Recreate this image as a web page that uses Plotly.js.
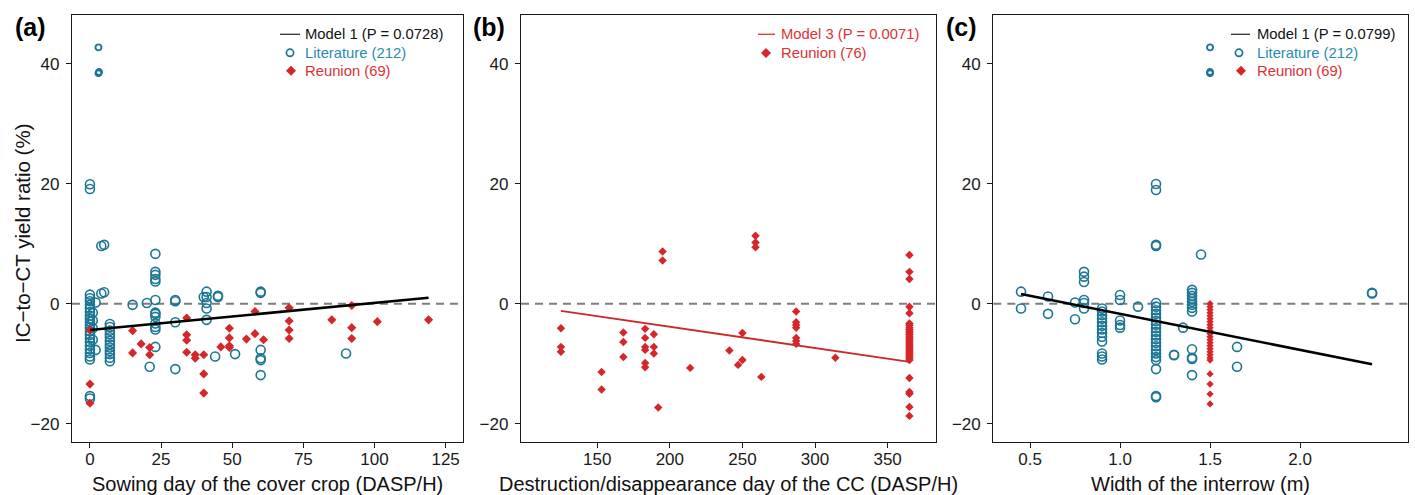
<!DOCTYPE html>
<html><head><meta charset="utf-8">
<script src="https://cdn.plot.ly/plotly-3.0.1.min.js"></script>
<style>html,body{margin:0;padding:0;background:#fff}</style>
</head><body><div id="chart" style="width:1415px;height:495px"></div>
<script>
// ---------- Panel (a): sowing day of the cover crop ----------
const litA_x = [0,0,0,0,0,0,0,0,0,0,0,0,0,0,0,0,0,0,0,0,0,0,0,0, 1,1,1,1, 2,2, 4,4,5,5, 7,7,7,7,7,7,7,7,7,7,7,7, 15, 20, 21, 23,23,23,23,23,23,23,23,23,23,23,23,23, 30,30,30,30, 40, 41,41,41,41,41, 44, 45,45, 51, 60,60,60,60,60,60, 90];
const litA_y = [1.5,0.9,0.4,-0.2,-0.8,-1.4,-2.0,-2.5,-3.0,-3.5,-4.0,-4.6,-5.2,-5.8,-6.4,-7.0,-7.6,-8.2,-8.8,-9.3,19.9,19.1,-15.4,-15.8, -1.5,-2.8,-4.1,-6.0, 0.2,-7.7, 9.6,1.7,9.8,1.9, -3.4,-3.9,-4.5,-5.1,-5.6,-6.2,-6.8,-7.3,-7.9,-8.4,-9.0,-9.6, -0.2, 0.1, -10.5, 8.3,5.3,4.8,4.1,3.7,0.6,-1.5,-1.7,-2.2,-3.3,-3.9,-4.3,-7.2, 0.6,0.4,-3.1,-10.9, 1.1, 2.0,1.1,0.1,-0.8,-2.7, -8.8, 1.3,1.1, -8.4, 2.0,1.8,-7.7,-9.1,-9.4,-11.9, -8.3];
const litA_small_x = [3,3,3.2];
const litA_small_y = [42.7,38.4,38.6];
const reuA_x = [0,0,0,15,15,18,21,21,34,34,34,34,37,37,40,40,40,46,49,49,49,49,55,58,58,61,70,70,70,70,85,92,92,92,101,119];
const reuA_y = [-4.4,-13.4,-16.6,-4.5,-8.2,-6.7,-7.3,-8.5,-2.4,-5.2,-6.1,-8.1,-8.5,-9.1,-8.5,-11.7,-14.9,-7.2,-4.1,-5.7,-7.0,-7.3,-5.9,-1.3,-5.0,-6.0,-0.7,-2.9,-4.4,-5.8,-2.7,-0.3,-4.0,-5.8,-3.0,-2.7];
const modelA_x = [0,119];
const modelA_y = [-4.4,1.0];

// ---------- Panel (b): destruction/disappearance day ----------
const reuB_x = [125,125,125, 153,153, 168,168,168, 183,183,183,183,183,183, 189,189,189, 192, 195,195, 214, 241, 247, 250,250, 259,259,259, 263, 287,287,287,287,287,287,287, 314,
  365,365,365,365,365, 365,365,365,365,365,365,365,365,365,365,365,365,365,365,365,365,365,365,365,365,365, 365,365,365,365,365];
const reuB_y = [-4.1,-7.2,-8.0, -11.4,-14.3, -4.8,-6.4,-8.9, -4.2,-5.7,-7.2,-7.7,-9.9,-10.6, -5.1,-7.2,-8.3, -17.3, 8.7,7.2, -10.7, -7.8, -10.2, -4.9,-9.4, 11.3,10.2,9.4, -12.2, -1.3,-3.1,-3.55,-4.0,-5.7,-6.2,-6.7, -9.0,
  8.1,5.3,4.1,-0.5,-1.6, -3.3,-3.6,-4.0,-4.3,-4.6,-4.9,-5.2,-5.5,-5.8,-6.1,-6.4,-6.7,-7.0,-7.3,-7.6,-7.9,-8.2,-8.5,-8.8,-9.1,-9.4, -12.4,-14.7,-15.0,-17.2,-18.7];
const modelB_x = [125,365];
const modelB_y = [-1.2,-9.7];

// ---------- Panel (c): width of the interrow ----------
const litC_x = [0.45,0.45, 0.6,0.6, 0.75,0.75, 0.8,0.8,0.8,0.8,0.8,0.8,
  0.9,0.9,0.9,0.9,0.9,0.9,0.9,0.9,0.9,0.9,0.9,0.9,0.9, 1.0,1.0,1.0,1.0,1.0, 1.1,
  1.2,1.2,1.2,1.2,1.2,1.2,1.2,1.2,1.2,1.2,1.2,1.2,1.2,1.2,1.2,1.2,1.2,1.2,1.2,1.2,1.2,1.2,1.2,1.2,
  1.3,1.3, 1.35, 1.4,1.4,1.4,1.4,1.4,1.4,1.4,1.4,1.4,1.4,1.4,1.4, 1.45, 1.65,1.65, 2.4,2.4];
const litC_y = [2.0,-0.8, 1.2,-1.7, 0.2,-2.6, 5.3,4.5,3.6,0.6,0.1,-0.8,
  -0.8,-1.3,-1.9,-2.5,-3.1,-3.7,-4.3,-4.9,-5.5,-6.3,-8.3,-8.8,-9.3, 1.45,0.6,-2.8,-3.55,-4.0, -0.5,
  19.95,18.95,9.8,9.6,0.1,-0.5,-1.1,-1.7,-2.3,-2.9,-3.5,-4.1,-4.7,-5.3,-5.9,-6.5,-7.1,-7.7,-8.3,-8.9,-9.4,-10.9,-15.4,-15.6,
  -8.5,-8.6, -4.0, 2.3,1.8,1.3,0.8,0.3,-0.2,-0.7,-1.3,-7.6,-9.0,-9.2,-11.9, 8.2, -7.2,-10.5, 1.7,1.8];
const litC_small_x = [1.5,1.5,1.5];
const litC_small_y = [42.7,38.4,38.6];
const reuC_x = [1.5,1.5,1.5,1.5,1.5,1.5,1.5,1.5,1.5,1.5,1.5,1.5,1.5,1.5,1.5,1.5,1.5,1.5,1.5,1.5,1.5,1.5,1.5,1.5];
const reuC_y = [0,-0.5,-1.0,-1.5,-2.0,-2.5,-3.0,-3.5,-4.0,-4.5,-5.0,-5.5,-6.0,-6.5,-7.0,-7.5,-8.0,-8.5,-9.0,-9.4,-11.7,-13.4,-15.05,-16.7];
const modelC_x = [0.45,2.4];
const modelC_y = [1.6,-10.1];

// ---------- Labels ----------
const panelLabels = ['(a)','(b)','(c)'];
const xTitles = ['Sowing day of the cover crop (DASP/H)','Destruction/disappearance day of the CC (DASP/H)','Width of the interrow (m)'];
const yTitle = 'IC\u2212to\u2212CT yield ratio (%)';
const legA = ['Model 1 (P = 0.0728)','Literature (212)','Reunion (69)'];
const legB = ['Model 3 (P = 0.0071)','Reunion (76)'];
const legC = ['Model 1 (P = 0.0799)','Literature (212)','Reunion (69)'];

// ---------- Styles ----------
const FONT = 'Arial, "Liberation Sans", sans-serif';
const TEAL = '#1b7695';
const TEAL_TXT = '#2a8bb0';
const RED = '#d5262a';
const RED_TXT = '#dc3236';
const W = 1415, H = 495;
const px = v => v / W;
const py = v => (H - v) / H;

function lit(x, y, xa, ya, name) {
  return {type:'scatter', mode:'markers', x:x, y:y, xaxis:xa, yaxis:ya, name:name,
    marker:{symbol:'circle-open', size:9, color:TEAL, line:{width:1.6, color:TEAL}}, hoverinfo:'x+y'};
}
function litSmall(x, y, xa, ya, name) {
  return {type:'scatter', mode:'markers', x:x, y:y, xaxis:xa, yaxis:ya, name:name,
    marker:{symbol:'circle-open', size:6, color:TEAL, line:{width:1.9, color:TEAL}}, hoverinfo:'x+y'};
}
function reu(x, y, xa, ya, name, size) {
  return {type:'scatter', mode:'markers', x:x, y:y, xaxis:xa, yaxis:ya, name:name,
    marker:{symbol:'diamond', size:size, color:RED, line:{width:0}}, hoverinfo:'x+y'};
}
function model(x, y, xa, ya, name, color, w) {
  return {type:'scatter', mode:'lines', x:x, y:y, xaxis:xa, yaxis:ya, name:name,
    line:{color:color, width:w}, hoverinfo:'skip'};
}

const data = [
  lit(litA_x, litA_y, 'x', 'y', legA[1]),
  litSmall(litA_small_x, litA_small_y, 'x', 'y', legA[1]),
  reu(reuA_x, reuA_y, 'x', 'y', legA[2], 7),
  model(modelA_x, modelA_y, 'x', 'y', legA[0], '#000000', 2.6),

  reu(reuB_x, reuB_y, 'x2', 'y2', legB[1], 6.5),
  model(modelB_x, modelB_y, 'x2', 'y2', legB[0], '#cc2a2a', 2),

  lit(litC_x, litC_y, 'x3', 'y3', legC[1]),
  litSmall(litC_small_x, litC_small_y, 'x3', 'y3', legC[1]),
  reu(reuC_x, reuC_y, 'x3', 'y3', legC[2], 5.5),
  model(modelC_x, modelC_y, 'x3', 'y3', legC[0], '#000000', 2.6)
];

const yDom = [py(442), py(15)];
function xAxis(dom, range, tickvals, anchor, fmt) {
  const a = {domain:dom, range:range, anchor:anchor, tickvals:tickvals, showline:true, mirror:true,
    linecolor:'#1a1a1a', linewidth:1.3, ticks:'outside', ticklen:5, tickwidth:1.2, tickcolor:'#1a1a1a',
    showgrid:false, zeroline:false, tickfont:{family:FONT, size:17, color:'#1a1a1a'}, fixedrange:true, ticklabelstandoff:-4};
  if (fmt) a.tickformat = fmt;
  return a;
}
function yAxis(anchor) {
  return {domain:yDom, range:[-23.05, 48.1], anchor:anchor, tickvals:[-20,0,20,40], showline:true, mirror:true,
    linecolor:'#1a1a1a', linewidth:1.3, ticks:'outside', ticklen:5, tickwidth:1.2, tickcolor:'#1a1a1a',
    showgrid:false, zeroline:false, tickfont:{family:FONT, size:17, color:'#1a1a1a'}, fixedrange:true, ticklabelstandoff:3};
}
function zeroLine(xr, yr) {
  return {type:'line', xref:xr+' domain', x0:0, x1:1, yref:yr, y0:0, y1:0, layer:'below',
    line:{color:'#7d7d7d', width:2, dash:'8px,6px'}};
}

// ---------- Hand-built legends (one per panel) ----------
const LEG_FS = 14.8;
function legText(xPix, yPix, text, color) {
  return {text:text, xref:'paper', yref:'paper', x:px(xPix), y:py(yPix), xanchor:'left', yanchor:'middle',
    showarrow:false, font:{family:FONT, size:LEG_FS, color:color}};
}
function legLine(x0, x1, yPix, color) {
  return {type:'line', xref:'paper', yref:'paper', x0:px(x0), x1:px(x1), y0:py(yPix), y1:py(yPix), line:{color:color, width:1.3}};
}
function legCircle(xPix, yPix) {
  return {type:'circle', xref:'paper', yref:'paper', xsizemode:'pixel', ysizemode:'pixel',
    xanchor:px(xPix), yanchor:py(yPix), x0:-3.6, x1:3.6, y0:-3.6, y1:3.6,
    line:{color:TEAL, width:1.7}, fillcolor:'rgba(0,0,0,0)'};
}
function legDiamond(xPix, yPix) {
  return {type:'path', xref:'paper', yref:'paper', xsizemode:'pixel', ysizemode:'pixel',
    xanchor:px(xPix), yanchor:py(yPix), path:'M0,-5L5,0L0,5L-5,0Z', fillcolor:RED, line:{width:0}};
}

const annotations = [
  {text:'<b>'+panelLabels[0]+'</b>', xref:'paper', yref:'paper', x:px(30.5), y:py(27), xanchor:'center', yanchor:'middle', showarrow:false, font:{family:FONT, size:25, color:'#000'}},
  {text:'<b>'+panelLabels[1]+'</b>', xref:'paper', yref:'paper', x:px(489), y:py(27), xanchor:'center', yanchor:'middle', showarrow:false, font:{family:FONT, size:25, color:'#000'}},
  {text:'<b>'+panelLabels[2]+'</b>', xref:'paper', yref:'paper', x:px(961.5), y:py(27), xanchor:'center', yanchor:'middle', showarrow:false, font:{family:FONT, size:25, color:'#000'}},
  {text:xTitles[0], xref:'paper', yref:'paper', x:px(267.5), y:py(484), xanchor:'center', yanchor:'middle', showarrow:false, font:{family:FONT, size:20, color:'#111'}},
  {text:xTitles[1], xref:'paper', yref:'paper', x:px(728.5), y:py(484), xanchor:'center', yanchor:'middle', showarrow:false, font:{family:FONT, size:20, color:'#111'}},
  {text:xTitles[2], xref:'paper', yref:'paper', x:px(1200.5), y:py(484), xanchor:'center', yanchor:'middle', showarrow:false, font:{family:FONT, size:20, color:'#111'}},
  {text:yTitle, xref:'paper', yref:'paper', x:px(22), y:py(233), xanchor:'center', yanchor:'middle', textangle:-90, showarrow:false, font:{family:FONT, size:20.5, color:'#111'}},
  // legend (a)
  legText(303, 34.3, legA[0], '#111111'),
  legText(303, 52.7, legA[1], TEAL_TXT),
  legText(303, 70.8, legA[2], RED_TXT),
  // legend (b)
  legText(779, 34.3, legB[0], RED_TXT),
  legText(779, 52.7, legB[1], RED_TXT),
  // legend (c)
  legText(1255, 34.3, legC[0], '#111111'),
  legText(1255, 52.7, legC[1], TEAL_TXT),
  legText(1255, 70.8, legC[2], RED_TXT)
];

const shapes = [
  zeroLine('x','y'), zeroLine('x2','y2'), zeroLine('x3','y3'),
  legLine(280, 300, 34.3, '#333333'), legCircle(290, 52.8), legDiamond(291, 70.8),
  legLine(758, 775, 34.3, '#dc3236'), legDiamond(766, 53),
  legLine(1231, 1250, 34.3, '#333333'), legCircle(1239, 52.8), legDiamond(1241, 70.8)
];

const layout = {
  width:W, height:H, margin:{l:0, r:0, t:0, b:0}, paper_bgcolor:'#fff', plot_bgcolor:'#fff',
  font:{family:FONT}, showlegend:false,
  xaxis: xAxis([px(72), px(463)], [-6.3, 131.1], [0,25,50,75,100,125], 'y'),
  yaxis: yAxis('x'),
  xaxis2: xAxis([px(521), px(936)], [97.5, 383.3], [150,200,250,300,350], 'y2'),
  yaxis2: yAxis('x2'),
  xaxis3: xAxis([px(993.3), px(1407.7)], [0.296, 2.598], [0.5,1.0,1.5,2.0], 'y3', '.1f'),
  yaxis3: yAxis('x3'),
  shapes: shapes,
  annotations: annotations,
  hovermode:'closest'
};

Plotly.newPlot('chart', data, layout, {displayModeBar:false, responsive:false});
</script></body></html>
